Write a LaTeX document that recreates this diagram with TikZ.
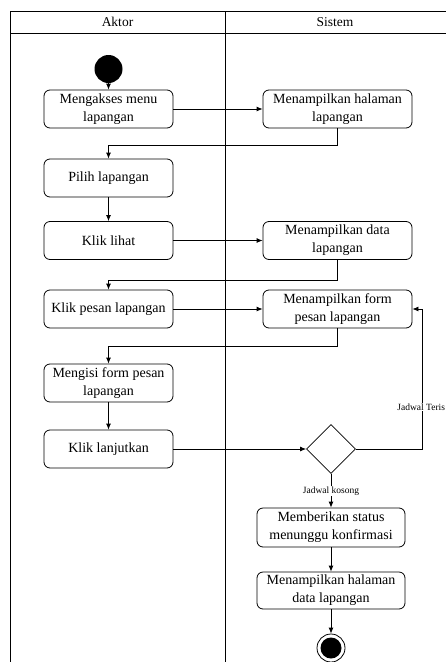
\documentclass[tikz,border=0pt]{standalone}
\usepackage{fontspec}
\setmainfont{Liberation Serif}
\usetikzlibrary{shapes.geometric,arrows.meta}
\begin{document}
\begin{tikzpicture}[x=1pt,y=-1pt,
  line width=0.8pt,
  act/.style={draw, rounded corners=6pt, align=center, inner sep=0pt,
    font=\fontsize{14}{18}\selectfont, minimum height=38pt},
  actL/.style={act, minimum width=129pt},
  actR/.style={act, minimum width=149pt},
  arr/.style={-{Latex[length=6pt,width=5pt]}},
  lbl/.style={fill=white, inner sep=1pt, font=\fontsize{9.5}{11}\selectfont},
  hdr/.style={font=\fontsize{13.5}{15}\selectfont}
]
\useasboundingbox (0,0) rectangle (445,662);
% swimlane frame
\draw (10,680) -- (10,11) -- (460,11);
\draw (10,33) -- (460,33);
\draw (225,11) -- (225,680);
\node[hdr] (hA) at (117.5,22) {Aktor};
\node[hdr] (hS) at (335,22) {Sistem};
% nodes
\node[circle, fill=black, minimum size=28pt, inner sep=0pt] (start) at (108.5,69) {};
\node[actL] (b1) at (108.5,109) {Mengakses menu\\lapangan};
\node[actR] (b2) at (337.5,109) {Menampilkan halaman\\lapangan};
\node[actL] (pilih) at (108.5,178) {Pilih lapangan};
\node[actL] (lihat) at (108.5,240.5) {Klik lihat};
\node[actR] (data) at (337.5,240.5) {Menampilkan data\\lapangan};
\node[actL] (pesan) at (108.5,309) {Klik pesan lapangan};
\node[actR] (form) at (337.5,309) {Menampilkan form\\pesan lapangan};
\node[actL] (isi) at (108.5,383) {Mengisi form pesan\\lapangan};
\node[actL] (lanjut) at (108.5,449) {Klik lanjutkan};
\node[diamond, draw, minimum width=49pt, minimum height=49pt, inner sep=0pt] (dia) at (331,449) {};
\node[act, minimum width=148pt, minimum height=39pt] (beri) at (331,527.5) {Memberikan status\\menunggu konfirmasi};
\node[act, minimum width=148pt, minimum height=37pt] (tampil) at (331,590.5) {Menampilkan halaman\\data lapangan};
\node[circle, draw, minimum size=28pt, inner sep=0pt] (end) at (331,648) {};
\fill (end.center) circle (10.5);
% connectors
\draw[arr] (start) -- (b1);
\draw[arr] (b1) -- (b2);
\draw[arr] (b2.south) -- ++(0,17) -| (pilih.north);
\draw[arr] (pilih) -- (lihat);
\draw[arr] (lihat) -- (data);
\draw[arr] (data.south) -- ++(0,20) -| (pesan.north);
\draw[arr] (pesan) -- (form);
\draw[arr] (form.south) -- ++(0,18) -| (isi.north);
\draw[arr] (isi) -- (lanjut);
\draw[arr] (lanjut) -- (dia.west);
\coordinate (turn) at (422,449);
\draw[arr] (dia.east) -- (turn) |- (form.east);
\node[lbl, anchor=west] (lt) at (396,407) {Jadwal Teris};
\draw[arr] (dia.south) -- (beri.north);
\node[lbl] (lk) at (331,491) {Jadwal kosong};
\draw[arr] (beri) -- (tampil);
\draw[arr] (tampil) -- (end);
\end{tikzpicture}
\end{document}
